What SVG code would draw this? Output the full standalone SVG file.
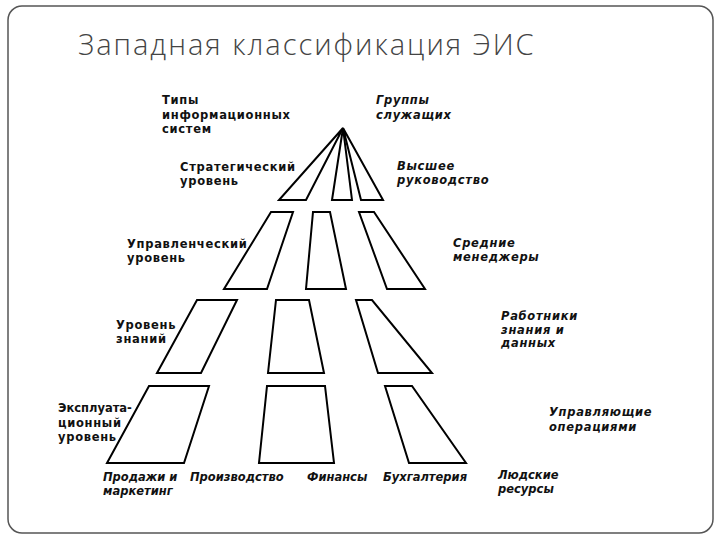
<svg xmlns="http://www.w3.org/2000/svg" width="720" height="540" viewBox="0 0 720 540">
<style>
.s{fill:#fff;stroke:#000;stroke-width:2;stroke-linejoin:miter}
.t{font-family:"DejaVu Sans","Liberation Sans",sans-serif;font-size:11.5px;font-weight:bold;letter-spacing:0.7px;fill:#111}
.i{font-style:italic}
.b{letter-spacing:0}
</style>
<rect x="0" y="0" width="720" height="540" fill="#fff"/>
<rect x="8" y="6" width="705" height="527" rx="14" fill="none" stroke="#555" stroke-width="1.5"/>
<text x="78" y="55" font-family="'Open Sans','Noto Sans',sans-serif" font-size="29" font-weight="300" letter-spacing="2" fill="#444">Западная классификация ЭИС</text>
<g id="connectors">
<polygon class="s" points="343,128 279,200 306,200"/>
<polygon class="s" points="343,128 332,200 352,200"/>
<polygon class="s" points="343,128 361,200 383,200"/>
</g>
<g id="level2">
<polygon class="s" points="271,212 293,212 267,289 224,289"/>
<polygon class="s" points="313,212 330,212 346,289 306,289"/>
<polygon class="s" points="359,212 374,212 425,289 387,289"/>
</g>
<g id="level3">
<polygon class="s" points="197,300 237,300 201,373 157,373"/>
<polygon class="s" points="276,300 309,300 324,373 268,373"/>
<polygon class="s" points="356,300 372,300 432,373 378,373"/>
</g>
<g id="level4">
<polygon class="s" points="149,386 209,386 184,463 107,463"/>
<polygon class="s" points="267,386 325,386 334,463 259,463"/>
<polygon class="s" points="385,386 412,386 466,463 409,463"/>
</g>
<g id="labels-left" class="t">
<text x="162" y="104">Типы</text><text x="162" y="119">информационных</text><text x="162" y="133">систем</text>
<text x="180" y="171">Стратегический</text><text x="180" y="185">уровень</text>
<text x="127" y="248">Управленческий</text><text x="127" y="262">уровень</text>
<text x="116" y="329">Уровень</text><text x="116" y="343">знаний</text>
<text x="58" y="412" class="b">Эксплуата-</text><text x="58" y="427">ционный</text><text x="58" y="441">уровень</text>
</g>
<g id="labels-right" class="t i">
<text x="376" y="104">Группы</text><text x="376" y="119">служащих</text>
<text x="397" y="170">Высшее</text><text x="397" y="184">руководство</text>
<text x="453" y="247">Средние</text><text x="453" y="261">менеджеры</text>
<text x="501" y="320">Работники</text><text x="501" y="334">знания и</text><text x="501" y="347">данных</text>
<text x="549" y="416">Управляющие</text><text x="549" y="431">операциями</text>
</g>
<g id="labels-bottom" class="t i b">
<text x="103" y="481">Продажи и</text><text x="103" y="495">маркетинг</text>
<text x="190" y="481">Производство</text>
<text x="307" y="481">Финансы</text>
<text x="383" y="481">Бухгалтерия</text>
<text x="498" y="479">Людские</text><text x="498" y="493">ресурсы</text>
</g>
</svg>
